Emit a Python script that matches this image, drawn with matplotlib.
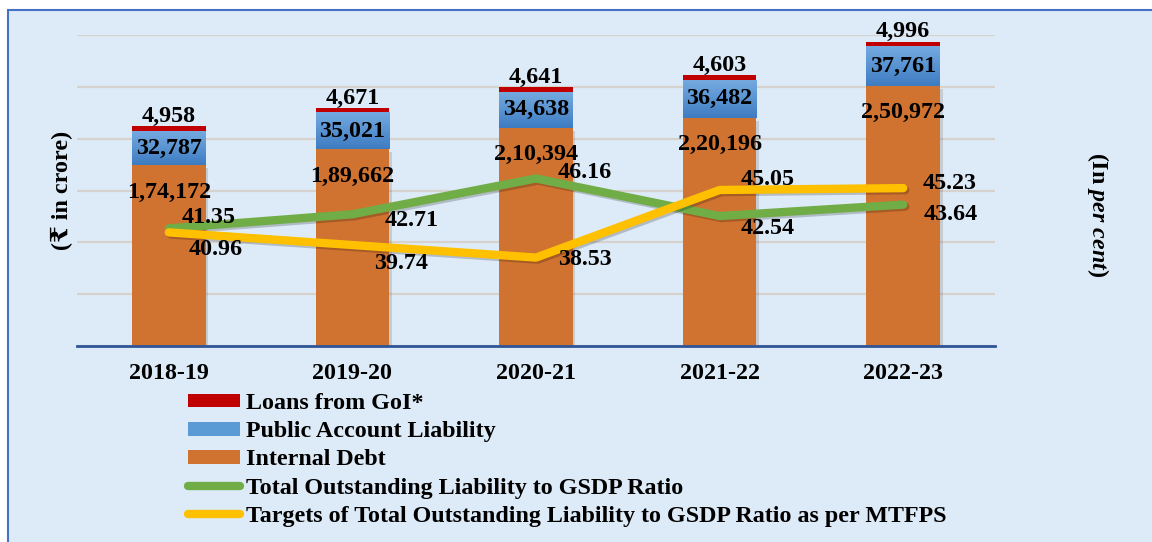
import numpy as np
import matplotlib
matplotlib.use("Agg")
import matplotlib.pyplot as plt
from matplotlib.patches import Rectangle, Patch
from matplotlib.lines import Line2D
from matplotlib.colors import LinearSegmentedColormap
import matplotlib.patheffects as pe

plt.rcParams["font.family"] = ["Liberation Serif", "DejaVu Serif"]
plt.rcParams["font.weight"] = "bold"
plt.rcParams["mathtext.fontset"] = "custom"
plt.rcParams["mathtext.rm"] = "Liberation Serif:bold"
plt.rcParams["mathtext.it"] = "Liberation Serif:italic:bold"

years = ["2018-19", "2019-20", "2020-21", "2021-22", "2022-23"]
internal_debt = [174172, 189662, 210394, 220196, 250972]
public_account = [32787, 35021, 34638, 36482, 37761]
loans_goi = [4958, 4671, 4641, 4603, 4996]
ratio_actual = [41.35, 42.71, 46.16, 42.54, 43.64]
ratio_target = [40.96, 39.74, 38.53, 45.05, 45.23]

ORANGE = "#D07230"
BLUE_TOP = "#74AAE0"
BLUE_BOT = "#3E7CC2"
RED = "#C00000"
GREEN = "#70AD47"
YELLOW = "#FFC000"
BG = "#DDEAF7"
FS = 17.3


def inr(v):
    # Indian digit grouping: 2,50,972
    s = str(int(v))
    if len(s) <= 3:
        return s
    last3, rest = s[-3:], s[:-3]
    groups = []
    while len(rest) > 2:
        groups.insert(0, rest[-2:])
        rest = rest[:-2]
    if rest:
        groups.insert(0, rest)
    return ",".join(groups + [last3])


W, H = 1152, 542
fig = plt.figure(figsize=(W / 100, H / 100), dpi=100)
fig.patch.set_facecolor("white")
fig.patches.append(Rectangle((8 / W, -0.05), 1.1, 1 - 10 / H + 0.05,
                             transform=fig.transFigure, facecolor=BG,
                             edgecolor="#4472C4", lw=1.5, zorder=-10))

ax = fig.add_axes([77 / W, 1 - 346 / H, 918 / W, 311 / H])
ax.set_facecolor("none")
ax2 = ax.twinx()
ax2.set_facecolor("none")

x = np.arange(len(years))
bw = 0.40
shadow = [pe.SimplePatchShadow(offset=(2, -2), alpha=0.15), pe.Normal()]

ax.bar(x, internal_debt, bw, color=ORANGE, zorder=3, path_effects=shadow)
ax.bar(x, public_account, bw, bottom=internal_debt, color=BLUE_BOT, zorder=3)
bottom2 = np.array(internal_debt) + np.array(public_account)
ax.bar(x, loans_goi, bw, bottom=bottom2, color=RED, zorder=3)

# gradient on public account segments
bcmap = LinearSegmentedColormap.from_list("b", [BLUE_BOT, BLUE_TOP])
grad = np.linspace(0, 1, 64).reshape(-1, 1)
for xi, b, h in zip(x, internal_debt, public_account):
    ax.imshow(grad, extent=[xi - bw / 2, xi + bw / 2, b, b + h], origin="lower",
              aspect="auto", cmap=bcmap, zorder=3.5)

ax.set_xlim(-0.5, 4.5)
ax.set_ylim(0, 300000)
ax.set_yticks(np.arange(0, 300001, 50000))
ax.yaxis.grid(True, color="#D6D3CF", lw=1.6, zorder=0)
ax.set_axisbelow(True)
ax.tick_params(axis="y", left=False, labelleft=False)
ax.set_xticks(x)
ax.set_xticklabels(years, fontsize=FS, fontweight="bold")
ax.tick_params(axis="x", length=0, pad=12)
for s in ["top", "left", "right"]:
    ax.spines[s].set_visible(False)
ax.spines["bottom"].set_color("#2F5597")
ax.spines["bottom"].set_linewidth(2)
ax.spines["bottom"].set_zorder(4)

lbl = dict(ha="center", va="center", fontsize=FS, fontweight="bold",
           textcoords="offset pixels", zorder=6)
for xi, a, b, c in zip(x, internal_debt, public_account, loans_goi):
    ax.annotate(inr(a), (xi, a), xytext=(0, -27), **lbl)
    ax.annotate(inr(b), (xi, a + b / 2), xytext=(0, 0), **lbl)
    ax.annotate(inr(c), (xi, a + b + c), xytext=(0, 10), **lbl)

lshadow = [pe.SimpleLineShadow(offset=(1.5, -1.5), alpha=0.2), pe.Normal()]
ax2.plot(x, ratio_actual, color=GREEN, lw=6, solid_capstyle="round",
         solid_joinstyle="round", zorder=5, path_effects=lshadow)
ax2.plot(x, ratio_target, color=YELLOW, lw=6, solid_capstyle="round",
         solid_joinstyle="round", zorder=5, path_effects=lshadow)
ax2.set_ylim(30, 60)
ax2.set_xlim(-0.5, 4.5)
ax2.tick_params(axis="y", right=False, labelright=False)
for s in ax2.spines.values():
    s.set_visible(False)

off_actual = [(40, 11), (59, -6), (49, 6), (48, -12), (48, -10)]
off_target = [(47, -17), (49, -18), (49, -2), (48, 10), (46, 5)]
for xi, v, o in zip(x, ratio_actual, off_actual):
    ax2.annotate(f"{v:.2f}", (xi, v), xytext=o, **lbl)
for xi, v, o in zip(x, ratio_target, off_target):
    ax2.annotate(f"{v:.2f}", (xi, v), xytext=o, **lbl)

fig.text(62 / W, 1 - 190 / H, "(₹ in crore)", rotation=90, ha="center",
         va="center", fontsize=FS, fontweight="bold",
         family=["Liberation Serif", "DejaVu Serif", "DejaVu Sans"])
fig.text(1098 / W, 1 - 215 / H, r"(In $\mathit{per\ cent}$)", rotation=270,
         ha="center", va="center", fontsize=FS, fontweight="bold")

handles = [
    Patch(facecolor=RED, edgecolor="none"),
    Patch(facecolor="#5B9BD5", edgecolor="none"),
    Patch(facecolor=ORANGE, edgecolor="none"),
    Line2D([], [], color=GREEN, lw=6, solid_capstyle="round"),
    Line2D([], [], color=YELLOW, lw=6, solid_capstyle="round"),
]
labels = ["Loans from GoI*", "Public Account Liability", "Internal Debt",
          "Total Outstanding Liability to GSDP Ratio",
          "Targets of Total Outstanding Liability to GSDP Ratio as per MTFPS"]
fig.legend(handles, labels, loc="upper left",
           bbox_to_anchor=(188 / W, 1 - 393 / H), frameon=False,
           prop=dict(family="Liberation Serif", weight="bold", size=FS),
           handlelength=2.15, handleheight=0.5, handletextpad=0.25,
           labelspacing=0.3, borderpad=0, borderaxespad=0)

fig.savefig("out.png", dpi=100)
